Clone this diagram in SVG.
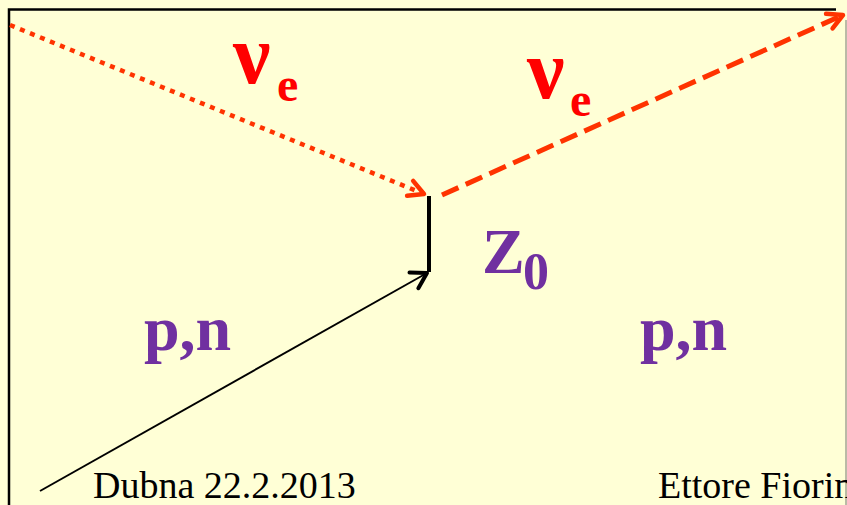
<svg xmlns="http://www.w3.org/2000/svg" width="847" height="505" viewBox="0 0 847 505">
<defs>
<style>
.red{fill:#FF0000;font-family:"Liberation Serif","Times New Roman",serif;font-weight:bold}
.pur{fill:#7030A0;font-family:"Liberation Serif","Times New Roman",serif;font-weight:bold}
.foot{fill:#000;font-family:"Liberation Serif","Times New Roman",serif;font-size:38px}
</style>
<marker id="ar" markerUnits="userSpaceOnUse" markerWidth="30" markerHeight="30" viewBox="-20 -15 30 30" refX="0" refY="0" orient="auto">
<path d="M-15,-8 L0,0 L-15,8" fill="none" stroke="#FF3300" stroke-width="4.5" stroke-linecap="round" stroke-linejoin="round"/>
</marker>
<marker id="ak" markerUnits="userSpaceOnUse" markerWidth="30" markerHeight="30" viewBox="-20 -15 30 30" refX="0" refY="0" orient="auto">
<path d="M-15,-9 L0,0 L-15,9" fill="none" stroke="#000" stroke-width="4" stroke-linecap="round" stroke-linejoin="round"/>
</marker>
</defs>
<rect width="847" height="505" fill="#FFFFD6"/>
<g id="frame">
<path d="M9,505 V9.5 H836" fill="none" stroke="#000" stroke-width="2.5"/>
<line x1="846" y1="20" x2="846" y2="505" stroke="#777" stroke-width="1"/>
</g>
<g id="connectors">
<line x1="10" y1="25" x2="424" y2="194" stroke="#FF3300" stroke-width="4.5" stroke-dasharray="5 5.8" marker-end="url(#ar)"/>
<line x1="442" y1="195" x2="843" y2="15" stroke="#FF3300" stroke-width="5" stroke-dasharray="18 8" marker-end="url(#ar)"/>
<line x1="429" y1="196" x2="429" y2="272" stroke="#000" stroke-width="4"/>
<line x1="40" y1="491" x2="427" y2="273" stroke="#000" stroke-width="2" marker-end="url(#ak)"/>
</g>
<g id="nu-in"><text class="red" x="233" y="83" font-size="84">ν</text><text class="red" x="277" y="101" font-size="48">e</text></g>
<g id="nu-out"><text class="red" x="527" y="98" font-size="84">ν</text><text class="red" x="570" y="116" font-size="48">e</text></g>
<g id="z0"><text class="pur" x="482" y="273" font-size="64">Z</text><text class="pur" x="523" y="289" font-size="52">0</text></g>
<g id="pn-left"><text class="pur" x="144" y="350" font-size="64">p,n</text></g>
<g id="pn-right"><text class="pur" x="640" y="350" font-size="64">p,n</text></g>
<g id="footer"><text class="foot" x="93" y="498">Dubna 22.2.2013</text><text class="foot" x="658" y="498">Ettore Fiorini</text></g>
</svg>
